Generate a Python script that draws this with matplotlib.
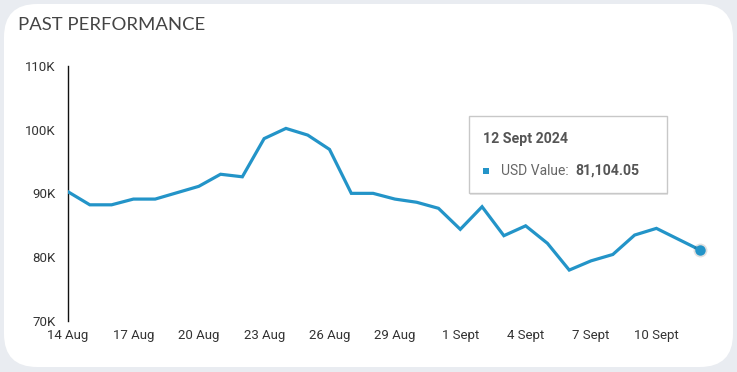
import matplotlib
matplotlib.use("Agg")
import matplotlib.pyplot as plt
from matplotlib.patches import FancyBboxPatch, Rectangle

# ---- data ----
dates = ["14 Aug", "15 Aug", "16 Aug", "17 Aug", "18 Aug", "19 Aug", "20 Aug", "21 Aug",
         "22 Aug", "23 Aug", "24 Aug", "25 Aug", "26 Aug", "27 Aug", "28 Aug", "29 Aug",
         "30 Aug", "31 Aug", "1 Sept", "2 Sept", "3 Sept", "4 Sept", "5 Sept", "6 Sept",
         "7 Sept", "8 Sept", "9 Sept", "10 Sept", "11 Sept", "12 Sept"]
usd_values = [90250, 88200, 88200, 89100, 89100, 90100, 91100, 93000,
              92600, 98600, 100200, 99150, 96900, 90000, 90000, 89100,
              88600, 87650, 84350, 87900, 83350, 84900, 82150, 77950,
              79400, 80400, 83450, 84500, 82800, 81104.05]
y_ticks = [70000, 80000, 90000, 100000, 110000]
y_tick_labels = ["70K", "80K", "90K", "100K", "110K"]
x_tick_every = 3
tooltip_date = "12 Sept 2024"
tooltip_label = "USD Value: "
tooltip_value = "81,104.05"
title = "PAST PERFORMANCE"

W, H = 737, 372
LINE = "#2394c8"
plt.rcParams['font.family'] = ['Roboto', 'DejaVu Sans']

fig = plt.figure(figsize=(W / 100, H / 100), dpi=100)
fig.patch.set_facecolor("#e9ecf1")

def fx(x):
    return x / W

def fy(y):
    return 1 - y / H

# card
card = FancyBboxPatch((fx(4), fy(367)), fx(729), (363) / H,
                      boxstyle="round,pad=0,rounding_size=0.045",
                      transform=fig.transFigure, facecolor="white", edgecolor="none",
                      mutation_aspect=W / H, zorder=-10)
fig.patches.append(card)

fig.text(fx(18), fy(25), title, fontsize=13.3, color="#444444", family=['Lato', 'DejaVu Sans'],
         va="center", ha="left")

# axes
left, right, bottom, top = 68, 710, 320.7, 66
ax = fig.add_axes([fx(left), fy(bottom), (right - left) / W, (bottom - top) / H])
ax.set_facecolor("none")
ax.set_zorder(1)
x = list(range(len(dates)))
ax.plot(x, usd_values, color=LINE, lw=2.3, solid_joinstyle="miter", zorder=3)
# end marker with soft shadow
ax.plot(x[-1], usd_values[-1], "o", ms=10, color="#000000", alpha=0.12, mec="none", zorder=3)
ax.plot(x[-1], usd_values[-1], "o", ms=7.5, color=LINE, mec="none", zorder=4)

ax.set_xlim(0, (right - left) / ((700 - 68) / (len(dates) - 1)))
ax.set_ylim(y_ticks[0], y_ticks[-1])
ax.set_yticks(y_ticks)
ax.set_yticklabels(y_tick_labels)
ax.set_xticks(x[::x_tick_every])
ax.set_xticklabels(dates[::x_tick_every])
for s in ["top", "right", "bottom"]:
    ax.spines[s].set_visible(False)
ax.spines["left"].set_linewidth(1.0)
ax.spines["left"].set_color("#111111")
ax.tick_params(axis="y", length=0, pad=9.0, labelsize=9.5, labelcolor="#333333")
ax.tick_params(axis="x", length=0, pad=6.0, labelsize=9.5, labelcolor="#333333")

# tooltip (drawn above the axes)
tx0, ty0, tx1, ty1 = 468.5, 116.5, 666.5, 192.5
shadow = Rectangle((fx(tx0 + 1), fy(ty1 + 2)), (tx1 - tx0) / W, (ty1 - ty0) / H,
                   transform=fig.transFigure, facecolor="#000000", alpha=0.10,
                   edgecolor="none", zorder=5)
fig.patches.append(shadow)
box = Rectangle((fx(tx0), fy(ty1)), (tx1 - tx0) / W, (ty1 - ty0) / H,
                transform=fig.transFigure, facecolor="white", edgecolor="#c8c8c8",
                lw=1, zorder=6)
fig.patches.append(box)
fig.text(fx(483), fy(139), tooltip_date, fontsize=10.2, fontweight="bold", color="#555555",
         va="center", ha="left", zorder=7)
sq = Rectangle((fx(482.5), fy(174)), 6 / W, 6 / H, transform=fig.transFigure,
               facecolor=LINE, edgecolor="none", zorder=7)
fig.patches.append(sq)
fig.text(fx(501), fy(170.7), tooltip_label, fontsize=10, color="#666666",
         va="center", ha="left", zorder=7)
fig.text(fx(575), fy(170.7), tooltip_value, fontsize=10.2, fontweight="bold", color="#555555",
         va="center", ha="left", zorder=7)

fig.savefig("out.png", dpi=100, facecolor=fig.get_facecolor())
